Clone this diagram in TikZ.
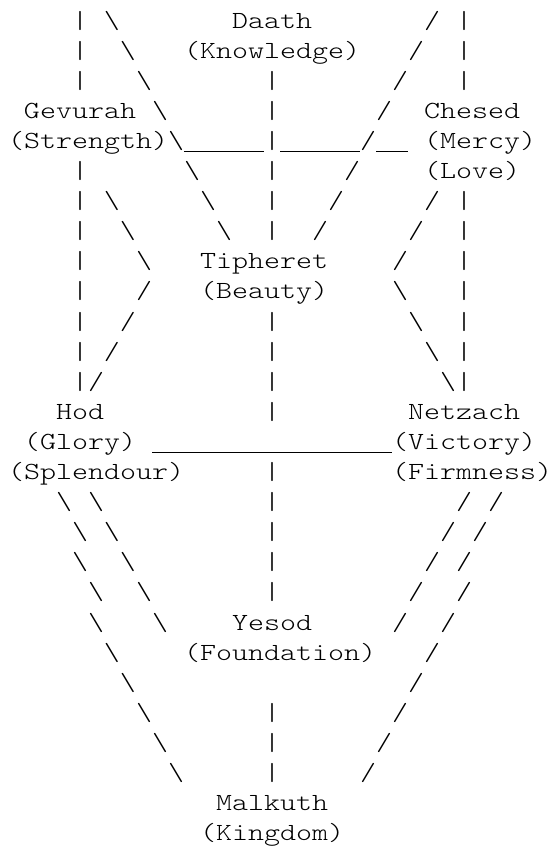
\documentclass[tikz,border=0pt]{standalone}
\usepackage{fontspec}
\usepackage{graphicx}
\usepackage{tikz}
\usetikzlibrary{positioning}
\newfontfamily\asciifont{lmmonolt10-regular.otf}
\newcommand{\wide}[1]{\scalebox{1.2389}[1]{#1}}
\newcommand{\beam}[1]{\rule[-1.85pt]{#1}{0.55pt}}
\tikzset{
  glyph/.style  = {anchor=base, inner sep=0pt, outer sep=0pt,
                   font=\fontsize{12.3pt}{15pt}\asciifont},
  sefira/.style = {glyph, anchor=base west},
}

\begin{document}
\begin{tikzpicture}[x=8pt, y=-15.05pt]
  \useasboundingbox (0pt,-1.05pt) rectangle (275pt,-425.05pt);

  % the sephirot
  \node[sefira] (daath)      at (14.5, 1) {\wide{Daath}};
  \node[sefira] (knowledge)  at (11.5, 2) {\wide{(Knowledge)}};
  \node[sefira] (gevurah)    at ( 1.5, 4) {\wide{Gevurah}};
  \node[sefira] (strength)   at ( 0.5, 5) {\wide{(Strength)}};
  \node[sefira] (chesed)     at (26.5, 4) {\wide{Chesed}};
  \node[sefira] (mercy)      at (26.5, 5) {\wide{(Mercy)}};
  \node[sefira] (love)       at (26.5, 6) {\wide{(Love)}};
  \node[sefira] (tipheret)   at (12.5, 9) {\wide{Tipheret}};
  \node[sefira] (beauty)     at (12.5,10) {\wide{(Beauty)}};
  \node[sefira] (hod)        at ( 3.5,14) {\wide{Hod}};
  \node[sefira] (glory)      at ( 1.5,15) {\wide{(Glory)}};
  \node[sefira] (splendour)  at ( 0.5,16) {\wide{(Splendour)}};
  \node[sefira] (netzach)    at (25.5,14) {\wide{Netzach}};
  \node[sefira] (victory)    at (24.5,15) {\wide{(Victory)}};
  \node[sefira] (firmness)   at (24.5,16) {\wide{(Firmness)}};
  \node[sefira] (yesod)      at (14.5,21) {\wide{Yesod}};
  \node[sefira] (foundation) at (11.5,22) {\wide{(Foundation)}};
  \node[sefira] (malkuth)    at (13.5,27) {\wide{Malkuth}};
  \node[sefira] (kingdom)    at (12.5,28) {\wide{(Kingdom)}};

  % cross bars (runs of underscores)
  \node[sefira] (beamL) at (11.5, 5) {\beam{40pt}};
  \node[sefira] (beamR) at (17.5, 5) {\beam{40pt}};
  \node[sefira] (beamC) at (23.5, 5) {\beam{16pt}};
  \node[sefira] (beamH) at ( 9.5,15) {\beam{120pt}};

  % paths, one glyph per cell (column/row)
  \foreach \c/\r [count=\i] in {4/1,4/2,4/3,4/6,4/7,4/8,4/9,4/10,4/11,4/12,4/13,
      16/3,16/4,16/5,16/6,16/7,16/8,16/11,16/12,16/13,16/14,
      16/16,16/17,16/18,16/19,16/20,16/24,16/25,16/26,
      28/1,28/2,28/3,28/7,28/8,28/9,28/10,28/11,28/12,28/13}
    \node[glyph] (vbar\i) at (\c+1,\r) {\wide{\textbar}};

  \foreach \c/\r [count=\i] in {6/1,7/2,8/3,9/4,10/5,11/6,12/7,13/8,
      6/7,7/8,8/9, 24/10,25/11,26/12,27/13,
      3/17,4/18,4/19,5/20,5/21,6/22,7/23,8/24,9/25,10/26,
      5/17,6/18,7/19,8/20,9/21}
    \node[glyph] (bslash\i) at (\c+1,\r) {\wide{\textbackslash}};

  \foreach \c/\r [count=\i] in {26/1,25/2,24/3,23/4,22/5,21/6,20/7,19/8,
      26/7,25/8,24/9, 8/10,7/11,6/12,5/13,
      28/17,27/18,26/19,25/20,24/21,
      30/17,29/18,28/19,28/20,27/21,26/22,25/23,24/24,23/25,22/26}
    \node[glyph] (fslash\i) at (\c+1,\r) {\wide{/}};

\end{tikzpicture}
\end{document}
